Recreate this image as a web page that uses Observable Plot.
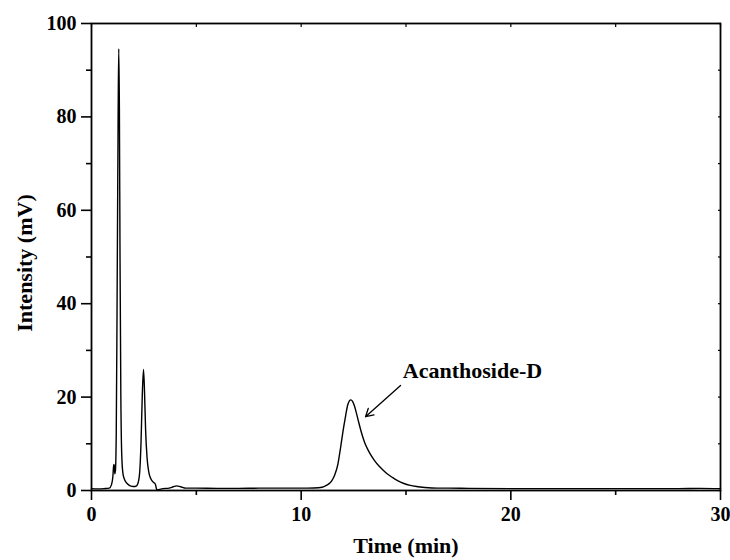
<!DOCTYPE html>
<html><head><meta charset="utf-8">
<script src="https://cdn.jsdelivr.net/npm/d3@7"></script>
<script src="https://cdn.jsdelivr.net/npm/@observablehq/plot@0.6"></script>
<style>body{margin:0;background:#fff} #chart{width:730px;height:560px}</style>
</head><body><div id="chart"></div>
<script>
// Chromatogram trace (time in min, intensity in mV)
const timeMin = [0.0, 0.3, 0.6, 0.85, 0.95, 1.02, 1.06, 1.09, 1.11, 1.14, 1.18, 1.22, 1.27, 1.30, 1.33, 1.36, 1.40, 1.44, 1.50, 1.58, 1.70, 1.85, 2.0, 2.12, 2.22, 2.30, 2.36, 2.42, 2.48, 2.53, 2.58, 2.65, 2.73, 2.82, 2.92, 3.0, 3.05, 3.09, 3.13, 3.2, 3.4, 3.7, 3.9, 4.05, 4.25, 4.5, 5.0, 6.0, 7.0, 8.0, 9.0, 10.0, 10.6, 11.0, 11.2, 11.45, 11.6, 11.75, 11.88, 12.0, 12.12, 12.22, 12.3, 12.37, 12.45, 12.55, 12.65, 12.75, 12.85, 12.95, 13.05, 13.2, 13.35, 13.5, 13.7, 13.9, 14.1, 14.35, 14.6, 14.9, 15.2, 15.5, 15.9, 16.5, 17.0, 18.0, 20.0, 22.0, 24.0, 26.0, 28.0, 29.0, 30.0];
const intensityMV = [0.4, 0.35, 0.4, 0.5, 1.2, 3.0, 5.6, 5.2, 3.6, 4.2, 12, 40, 80, 94.6, 82, 50, 20, 8, 3.6, 2.3, 1.5, 1.0, 0.85, 0.9, 1.6, 4, 10, 20, 25.9, 21, 13, 7, 4, 2.6, 1.9, 1.6, 1.3, 0.5, 0.1, 0.2, 0.4, 0.5, 0.8, 1.0, 0.8, 0.5, 0.5, 0.45, 0.45, 0.5, 0.5, 0.5, 0.55, 0.7, 1.1, 2.0, 3.3, 5.6, 9.2, 12.8, 16, 18.3, 19.2, 19.4, 19.1, 18.0, 16.3, 14.5, 12.8, 11.3, 10.0, 8.6, 7.4, 6.4, 5.3, 4.4, 3.6, 2.8, 2.1, 1.5, 1.1, 0.85, 0.65, 0.5, 0.5, 0.45, 0.4, 0.4, 0.4, 0.4, 0.4, 0.45, 0.4];

const xMajorTicks = [0, 10, 20, 30];
const xMinorTicks = [5, 15, 25];
const yMajorTicks = [0, 20, 40, 60, 80, 100];
const yMinorTicks = [10, 30, 50, 70, 90];
const xTitle = "Time (min)";
const yTitle = "Intensity (mV)";
const peakLabel = "Acanthoside-D";
const peakLabelAt = [14.85, 24];          // [time, intensity] of label baseline start
const arrowFrom = [14.74, 22.5];
const arrowTo = [13.07, 15.8];

const data = timeMin.map((t, i) => ({t, v: intensityMV[i]}));
const font = "'Liberation Serif', 'Times New Roman', serif";

const chart = Plot.plot({
  width: 730, height: 560,
  marginLeft: 91, marginRight: 10, marginTop: 23, marginBottom: 70,
  x: {domain: [0, 30]},
  y: {domain: [0, 100]},
  style: {fontFamily: font, fontWeight: "bold", fontSize: "20px", color: "#000", background: "#fff", overflow: "visible"},
  marks: [
    Plot.axisX({ticks: xMajorTicks, tickSize: 10, tickPadding: 6, tickFormat: d => String(d), label: null, strokeWidth: 1.6, fontSize: 20, fontWeight: "bold"}),
    Plot.axisX({ticks: xMinorTicks, tickSize: 5, tickFormat: () => "", label: null, strokeWidth: 1.6}),
    Plot.axisY({ticks: yMajorTicks, tickSize: 10, tickPadding: 5, tickFormat: d => String(d), label: null, strokeWidth: 1.6, fontSize: 20, fontWeight: "bold"}),
    Plot.axisY({ticks: yMinorTicks, tickSize: 5, tickFormat: () => "", label: null, strokeWidth: 1.6}),
    Plot.axisX({anchor: "top", ticks: xMinorTicks.concat(xMajorTicks), tickSize: -3, tickFormat: () => "", label: null, strokeWidth: 1.2}),
    Plot.axisY({anchor: "right", ticks: yMinorTicks.concat(yMajorTicks), tickSize: -3, tickFormat: () => "", label: null, strokeWidth: 1.2}),
    Plot.frame({stroke: "#000", strokeWidth: 1.8}),
    Plot.line(data, {x: "t", y: "v", stroke: "#000", strokeWidth: 1.4, curve: "monotone-x"}),
    Plot.arrow([0], {x1: () => arrowFrom[0], y1: () => arrowFrom[1], x2: () => arrowTo[0], y2: () => arrowTo[1], stroke: "#000", strokeWidth: 1.3, headLength: 10}),
    Plot.text([peakLabel], {x: () => peakLabelAt[0], y: () => peakLabelAt[1], text: d => d, textAnchor: "start", lineAnchor: "bottom", fontSize: 22, fontWeight: "bold", fill: "#000"}),
    Plot.text([xTitle], {frameAnchor: "bottom", dy: 62, text: d => d, textAnchor: "middle", lineAnchor: "bottom", fontSize: 22, fontWeight: "bold", fill: "#000"}),
    Plot.text([yTitle], {frameAnchor: "left", dx: -60, dy: 6, rotate: -90, text: d => d, textAnchor: "middle", lineAnchor: "bottom", fontSize: 22, fontWeight: "bold", fill: "#000"})
  ]
});
document.getElementById("chart").appendChild(chart);
</script>
</body></html>
